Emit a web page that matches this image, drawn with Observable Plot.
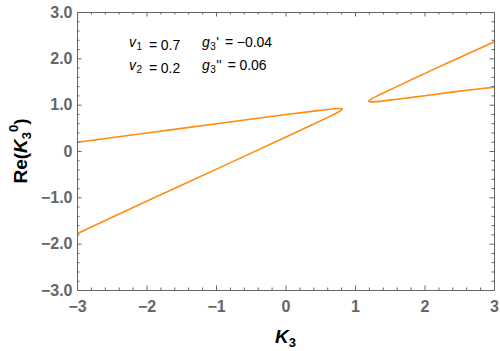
<!DOCTYPE html>
<html><head><meta charset="utf-8">
<script src="https://cdn.jsdelivr.net/npm/d3@7"></script>
<script src="https://cdn.jsdelivr.net/npm/@observablehq/plot@0.6"></script>
<style>body{margin:0;background:#fff} svg{display:block}</style>
</head><body><div id="chart"></div>
<script>
// Left branch (upper part from K3=-3 to the tip, then back along the lower part)
const leftK  = [-3, -2, -1, 0, 0.4, 0.6, 0.7, 0.76, 0.79, 0.81, 0.79, 0.76, 0.7, 0.6, 0.4, 0, -1, -2, -3];
const leftRe = [0.20, 0.40, 0.60, 0.80, 0.872, 0.908, 0.923, 0.929, 0.928, 0.915, 0.885, 0.857, 0.81, 0.736, 0.594, 0.314, -0.38, -1.07, -1.77];
// Right branch (upper part from K3=3 to the tip, then back along the lower part)
const rightK  = [3, 2.5, 2, 1.6, 1.4, 1.3, 1.24, 1.21, 1.19, 1.21, 1.24, 1.3, 1.4, 1.6, 2, 2.5, 3];
const rightRe = [2.37, 2.03, 1.686, 1.406, 1.264, 1.19, 1.143, 1.115, 1.085, 1.072, 1.071, 1.077, 1.092, 1.128, 1.204, 1.303, 1.39];

const xTicks = [-3, -2, -1, 0, 1, 2, 3];
const xTickLabels = ["−3", "−2", "−1", "0", "1", "2", "3"];
const yTicks = [3, 2, 1, 0, -1, -2, -3];
const yTickLabels = ["3.0", "2.0", "1.0", "0", "−1.0", "−2.0", "−3.0"];

const paramSymbols = ["v", "g", "v", "g"];
const paramSubs = ["1", "3", "2", "3"];
const paramPrimes = ["", "'", "", "''"];
const paramValues = ["0.7", "−0.04", "0.2", "0.06"];

const W = 500, H = 351;
const mT = 12, mR = 6, mB = 61, mL = 77;
const innerW = W - mL - mR, innerH = H - mT - mB;
const orange = "#ff8c0f", gray = "#666666";
const majorLen = 4.5, minorLen = 2.5;
const minor = d3.range(-15, 16).map(i => i / 5).filter(v => Math.abs(v - Math.round(v)) > 1e-9);

const leftData = leftK.map((k, i) => ({k, re: leftRe[i]}));
const rightData = rightK.map((k, i) => ({k, re: rightRe[i]}));

const tickStyle = {stroke: gray, strokeWidth: 1};
const chart = Plot.plot({
  width: W, height: H,
  marginTop: mT, marginRight: mR, marginBottom: mB, marginLeft: mL,
  x: {domain: [-3, 3], axis: null},
  y: {domain: [-3, 3], axis: null},
  style: {fontFamily: "'Liberation Sans', Arial, sans-serif", background: "#fff", overflow: "visible"},
  marks: [
    Plot.line(leftData, {x: "k", y: "re", stroke: orange, strokeWidth: 1.6, curve: "catmull-rom"}),
    Plot.line(rightData, {x: "k", y: "re", stroke: orange, strokeWidth: 1.6, curve: "catmull-rom"}),
    Plot.ruleX(xTicks, {x: d => d, ...tickStyle, insetTop: innerH - majorLen}),
    Plot.ruleX(xTicks, {x: d => d, ...tickStyle, insetBottom: innerH - majorLen}),
    Plot.ruleX(minor, {x: d => d, ...tickStyle, insetTop: innerH - minorLen}),
    Plot.ruleX(minor, {x: d => d, ...tickStyle, insetBottom: innerH - minorLen}),
    Plot.ruleY(yTicks, {y: d => d, ...tickStyle, insetRight: innerW - majorLen}),
    Plot.ruleY(yTicks, {y: d => d, ...tickStyle, insetLeft: innerW - majorLen}),
    Plot.ruleY(minor, {y: d => d, ...tickStyle, insetRight: innerW - minorLen}),
    Plot.ruleY(minor, {y: d => d, ...tickStyle, insetLeft: innerW - minorLen}),
    Plot.frame({stroke: gray, strokeWidth: 1}),
    Plot.text(xTicks, {x: d => d, text: (d, i) => xTickLabels[i], frameAnchor: "bottom", lineAnchor: "top", dy: 10, fill: gray, fontSize: 16, fontWeight: "bold"}),
    Plot.text(yTicks, {y: d => d, text: (d, i) => yTickLabels[i], frameAnchor: "left", textAnchor: "end", dx: -5, fill: gray, fontSize: 16, fontWeight: "bold"})
  ]
});
document.getElementById("chart").appendChild(chart);

const svg = d3.select(chart);
// x axis label
const xl = svg.append("text").attr("x", mL + innerW / 2).attr("y", 343)
  .attr("text-anchor", "middle").attr("font-size", 19).attr("font-weight", "bold").attr("fill", "#000");
xl.append("tspan").attr("font-style", "italic").text("K");
xl.append("tspan").attr("font-size", 13).attr("dy", 4).text("3");

// y axis label
const yl = svg.append("text").attr("transform", `translate(27,${mT + innerH / 2}) rotate(-90)`)
  .attr("text-anchor", "middle").attr("font-size", 19).attr("font-weight", "bold").attr("fill", "#000");
yl.append("tspan").text("Re(");
yl.append("tspan").attr("font-style", "italic").text("K");
yl.append("tspan").attr("font-size", 13).attr("dy", 4).text("3");
yl.append("tspan").attr("font-size", 13).attr("dy", -13).text("0");
yl.append("tspan").attr("dy", 9).text(")");

// parameter annotations
const colX = [mL + 52, mL + 125];
const rowY = [mT + 35, mT + 57.5];
paramSymbols.forEach((s, i) => {
  const t = svg.append("text").attr("x", colX[i % 2]).attr("y", rowY[Math.floor(i / 2)])
    .attr("text-anchor", "start").attr("font-size", 14).attr("fill", "#000");
  t.append("tspan").attr("font-style", "italic").text(s);
  t.append("tspan").attr("font-size", 10).attr("dy", 3).attr("dx", 0.5).text(paramSubs[i]);
  t.append("tspan").attr("dy", -3).attr("dx", 0.5).text(paramPrimes[i]);
  t.append("tspan").attr("dx", paramPrimes[i] ? 6 : 7).text("=");
  t.append("tspan").attr("dx", 3.5).text(paramValues[i]);
});
</script>
</body></html>
